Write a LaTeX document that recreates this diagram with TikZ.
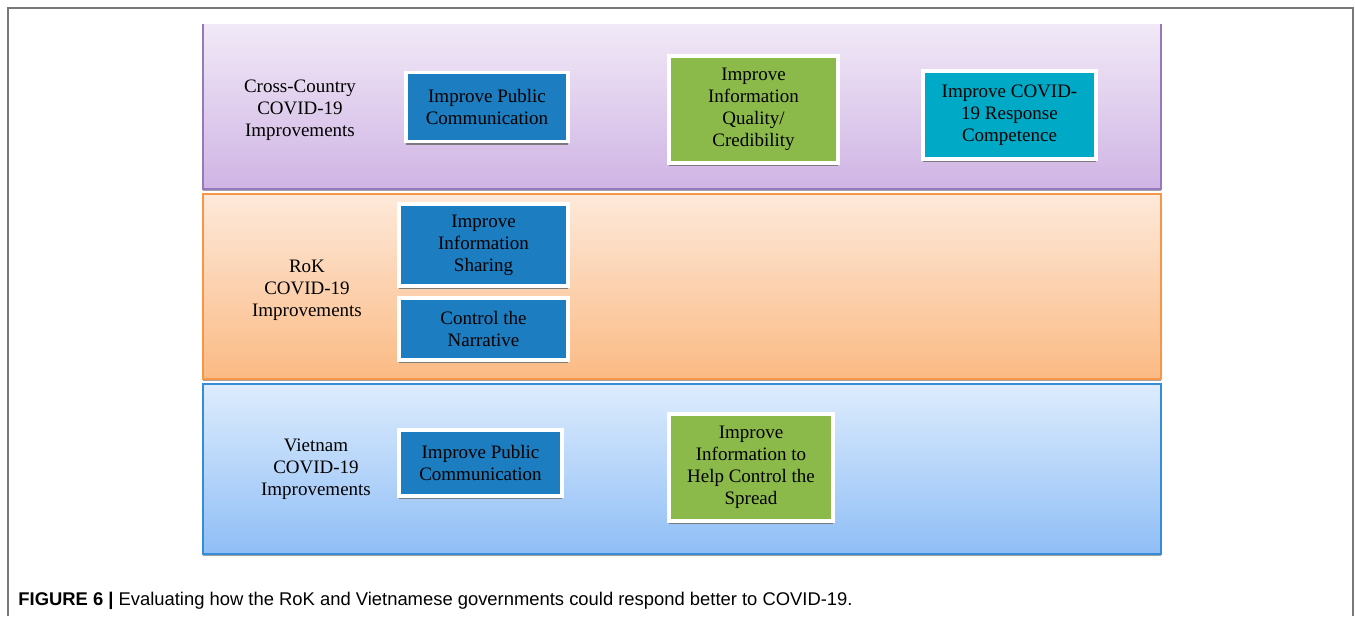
\documentclass[tikz,border=0pt]{standalone}
\usepackage{fontspec}
\setmainfont{Liberation Serif}
\newfontfamily\captionfont{Liberation Sans}
\usepackage{xcolor}
\usetikzlibrary{positioning,shadows}

\definecolor{ccTop}{RGB}{241,233,247}
\definecolor{ccBot}{RGB}{207,180,228}
\definecolor{ccLine}{RGB}{150,120,188}
\definecolor{rokTop}{RGB}{253,233,218}
\definecolor{rokBot}{RGB}{251,186,132}
\definecolor{rokLine}{RGB}{247,150,70}
\definecolor{vnTop}{RGB}{221,236,253}
\definecolor{vnBot}{RGB}{143,190,246}
\definecolor{vnLine}{RGB}{55,140,215}
\definecolor{itemBlue}{RGB}{28,125,192}
\definecolor{itemGreen}{RGB}{140,186,74}
\definecolor{itemTeal}{RGB}{0,170,198}
\definecolor{frameGray}{RGB}{120,120,120}

\begin{document}
\begin{tikzpicture}[x=0.5pt, y=-0.5pt,
    panel/.style={rectangle, inner sep=0pt, outer sep=0pt, line width=0.6pt,
                  minimum width=479pt,
                  drop shadow={shadow xshift=0pt, shadow yshift=-1.2pt, fill=black!45, opacity=0.8}},
    item/.style={rectangle, draw=white, line width=1.8pt, inner sep=0pt, align=center,
                 font=\fontsize{9.5}{11}\selectfont,
                 drop shadow={shadow xshift=0pt, shadow yshift=-1.5pt, fill=black!55, opacity=0.9}},
    group/.style={align=center, font=\fontsize{9.5}{11}\selectfont},
]
\useasboundingbox (0,0) rectangle (1355,616);

% Figure frame
\draw[frameGray, line width=0.8pt] (8,616) -- (8,8) -- (1353,8) -- (1353,616);

% --- Panels ---
\node[panel, top color=ccTop, bottom color=ccBot,
      minimum height=82.5pt] (cross) at (682,106.5) {};
\draw[ccLine, line width=0.6pt] (cross.north west) |- (cross.south east) -- (cross.north east);
\node[panel, top color=rokTop, bottom color=rokBot, draw=rokLine,
      minimum height=92.5pt] (rok) at (682,286.5) {};
\node[panel, top color=vnTop, bottom color=vnBot, draw=vnLine,
      minimum height=85pt] (vn) at (682,469) {};

% --- Row headers ---
\node[group] (crossLabel) at (300,110) {Cross-Country\\COVID-19\\Improvements};
\node[group] (rokLabel) at (307,290) {RoK\\COVID-19\\Improvements};
\node[group] (vnLabel) at (316,469) {Vietnam\\COVID-19\\Improvements};

% --- Cross-country items ---
\node[item, fill=itemBlue, minimum width=81pt, minimum height=34.5pt]
  (crossPublic) at (487,107) {Improve Public\\Communication};
\node[item, fill=itemGreen, minimum width=84.5pt, minimum height=53.5pt]
  (crossQuality) at (753.5,109.5) {Improve\\Information\\Quality/\\Credibility};
\node[item, fill=itemTeal, minimum width=86.5pt, minimum height=44pt]
  (crossCompetence) at (1009.5,115) {Improve COVID-\\19 Response\\Competence};

% --- RoK items ---
\node[item, fill=itemBlue, minimum width=84.5pt, minimum height=41pt]
  (rokSharing) at (483.5,245) {Improve\\Information\\Sharing};
\node[item, fill=itemBlue, minimum width=84.5pt, minimum height=31pt]
  (rokNarrative) at (483.5,329) {Control the\\Narrative};

% --- Vietnam items ---
\node[item, fill=itemBlue, minimum width=81.5pt, minimum height=33pt]
  (vnPublic) at (480.5,463) {Improve Public\\Communication};
\node[item, fill=itemGreen, minimum width=82pt, minimum height=53.5pt]
  (vnSpread) at (751,467.5) {Improve\\Information to\\Help Control the\\Spread};

% Caption
\node[anchor=west, inner sep=0pt, font=\captionfont\fontsize{9.2}{11}\selectfont]
  (caption) at (18,601) {\textbf{FIGURE 6 |} Evaluating how the RoK and Vietnamese governments could respond better to COVID-19.};
\end{tikzpicture}
\end{document}
